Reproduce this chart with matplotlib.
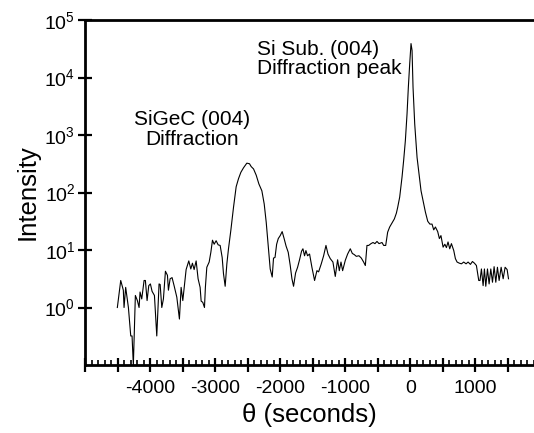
import matplotlib
matplotlib.use("Agg")
import matplotlib.pyplot as plt
from matplotlib.ticker import FixedLocator, MultipleLocator, LogFormatterSciNotation

plt.rcParams['font.family'] = ['Liberation Sans', 'DejaVu Sans']
plt.rcParams['mathtext.fontset'] = 'custom'
plt.rcParams['mathtext.rm'] = 'Liberation Sans'
plt.rcParams['mathtext.it'] = 'Liberation Sans:italic'
plt.rcParams['mathtext.bf'] = 'Liberation Sans:bold'

theta = [-4503, -4451, -4411, -4400, -4375, -4333, -4297, -4277, -4257, -4226,
         -4195, -4169, -4154, -4128, -4092, -4072, -4046, -4020, -3995, -3969,
         -3933, -3897, -3862, -3845, -3820, -3795, -3764, -3733, -3718, -3692,
         -3662, -3631, -3589, -3549, -3523, -3497, -3477, -3446, -3405, -3374,
         -3349, -3323, -3292, -3262, -3231, -3215, -3190, -3164, -3150, -3128,
         -3092, -3066, -3041, -3015, -2985, -2954, -2923, -2892, -2872, -2846,
         -2820, -2795, -2759, -2718, -2677, -2641, -2605, -2564, -2513, -2472,
         -2446, -2410, -2369, -2328, -2282, -2246, -2215, -2179, -2154, -2123,
         -2103, -2080, -2055, -2030, -2000, -1970, -1940, -1910, -1877, -1846,
         -1820, -1795, -1764, -1733, -1703, -1672, -1651, -1626, -1605, -1580,
         -1549, -1513, -1472, -1436, -1410, -1369, -1333, -1297, -1266, -1231,
         -1190, -1154, -1118, -1092, -1066, -1041, -1000, -964, -923, -892,
         -862, -831, -790, -754, -718, -692, -667, -641, -605, -574,
         -544, -513, -482, -436, -410, -379, -349, -318, -282, -246,
         -215, -195, -164, -128, -103, -77, -51, -31, -10, 10,
         26, 41, 67, 103, 138, 164, 195, 231, 267, 300,
         333, 359, 385, 420, 446, 470, 503, 530, 554, 579,
         605, 631, 667, 692, 718, 754, 785, 820, 856, 887,
         923, 954, 985, 1015, 1051, 1070, 1092, 1118, 1138, 1159,
         1185, 1210, 1236, 1262, 1287, 1313, 1338, 1364, 1395, 1426,
         1456, 1487, 1508]

intensity = [1.0, 2.95, 2.0, 1.0, 2.24, 1.0, 0.32, 0.32, 0.1, 1.62,
             1.32, 1.0, 1.86, 1.41, 2.95, 2.95, 1.32, 2.4, 2.57, 1.91,
             1.62, 0.32, 2.57, 2.51, 1.0, 1.41, 4.27, 3.63, 2.0, 3.16,
             3.31, 2.4, 1.51, 0.63, 2.24, 1.32, 2.14, 4.57, 6.46, 4.68,
             5.89, 4.57, 6.46, 3.16, 2.24, 1.29, 1.23, 1.0, 2.24, 5.01,
             6.17, 9.12, 14.8, 12.6, 14.5, 12.3, 12.0, 7.41, 3.89, 2.34,
             5.75, 10.5, 21.9, 55.0, 126, 174, 224, 269, 324, 316,
             282, 257, 200, 141, 107, 63.1, 30.2, 9.77, 4.68, 3.39,
             7.24, 7.41, 12.6, 15.8, 17.8, 20.9, 15.8, 11.7, 9.12, 5.37,
             3.16, 2.34, 3.98, 5.01, 6.76, 9.55, 10.5, 7.94, 9.77, 7.94,
             8.51, 5.01, 2.95, 4.37, 4.17, 5.75, 7.94, 12.0, 8.51, 7.08,
             6.17, 3.47, 6.76, 4.37, 6.17, 4.37, 6.61, 8.51, 10.5, 8.71,
             8.32, 7.76, 7.94, 7.24, 6.17, 5.37, 12.0, 12.0, 12.9, 13.5,
             12.9, 14.1, 12.9, 13.5, 12.0, 12.0, 20.4, 25.1, 29.5, 34.7,
             43.7, 55.0, 83.2, 186, 363, 794, 2344, 6761, 17378, 38905,
             29512, 6761, 1549, 407, 186, 107, 72.4, 45.7, 31.6, 28.2,
             28.2, 22.4, 25.1, 20.9, 15.8, 17.8, 11.2, 12.6, 11.0, 13.8,
             10.5, 12.9, 9.77, 7.08, 6.17, 5.89, 5.75, 6.17, 5.75, 6.17,
             5.62, 6.31, 5.89, 5.37, 2.95, 2.95, 4.68, 2.4, 4.68, 2.34,
             4.68, 2.57, 4.68, 2.75, 5.13, 2.75, 5.01, 2.95, 5.01, 3.16,
             5.01, 4.57, 3.16]

y_ticks = [1e0, 1e1, 1e2, 1e3, 1e4, 1e5]
x_labels_at = [-4000, -3000, -2000, -1000, 0, 1000]

fig = plt.figure(figsize=(5.34, 4.33), dpi=100)
ax = fig.add_axes([85/534, 1 - 365/433, 1 - 85/534, (365 - 20)/433])

ax.plot(theta, intensity, color='black', linewidth=0.8)
ax.set_yscale('log')
ax.set_ylim(0.1, 1e5)
ax.set_xlim(-5000, 1900)

ax.yaxis.set_major_locator(FixedLocator(y_ticks))
ax.yaxis.set_major_formatter(LogFormatterSciNotation())
ax.yaxis.set_minor_locator(FixedLocator([]))

ax.xaxis.set_major_locator(MultipleLocator(500))
ax.xaxis.set_minor_locator(MultipleLocator(100))
ax.set_xticklabels([])
ax.xaxis.set_major_formatter(plt.FuncFormatter(
    lambda v, p: f"{int(round(v))}" if int(round(v)) in x_labels_at else ""))

for s in ['left', 'bottom', 'top']:
    ax.spines[s].set_linewidth(2.0)
ax.spines['right'].set_visible(False)

ax.tick_params(axis='y', which='major', direction='inout', length=10, width=1.6,
               labelsize=14, pad=2)
ax.tick_params(axis='x', which='major', direction='inout', length=10, width=1.6,
               labelsize=14, pad=6)
ax.tick_params(axis='x', which='minor', direction='in', length=3.6, width=1.2)

ax.set_xlabel('θ (seconds)', fontsize=18.5, labelpad=4)
ax.set_ylabel('Intensity', fontsize=18.5, labelpad=3)

ax.text(-3354, 1250, 'SiGeC (004)\nDiffraction', fontsize=15, ha='center',
        va='center', linespacing=1.05, multialignment='center')
ax.text(-2354, 2.1e4, 'Si Sub. (004)\nDiffraction peak', fontsize=15, ha='left',
        va='center', linespacing=1.05)

fig.savefig('out.png', dpi=100)
